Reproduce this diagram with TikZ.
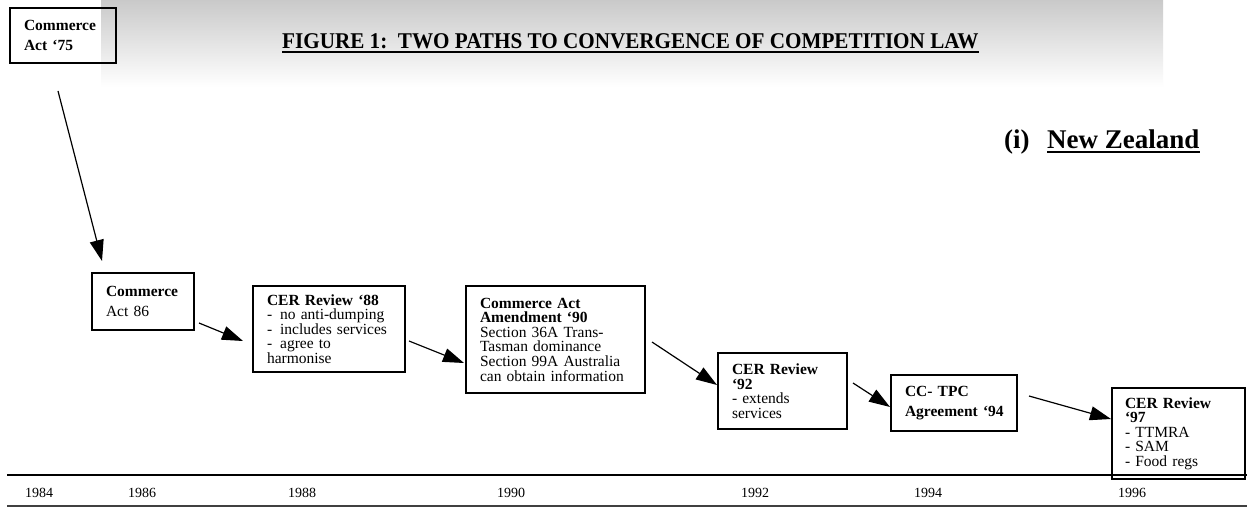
\documentclass[tikz,border=0pt]{standalone}
\usepackage{fontspec}
\setmainfont{Liberation Serif}
\newfontfamily\titlefont[FakeStretch=0.94]{Liberation Serif}
\usetikzlibrary{arrows.meta,calc}
\newcommand\lineof[1]{\mbox{#1}}
\tikzset{
  box/.style={draw, line width=1.3pt, anchor=north west, inner xsep=14pt, inner ysep=0pt, outer sep=0pt, align=left, font=\fontsize{15.5}{14.6}\selectfont},
  boxtwo/.style={box, font=\fontsize{15.5}{20}\selectfont},
  arr/.style={line width=1.2pt, -{Triangle[length=21pt,width=14pt]}},
  year/.style={anchor=base west, inner sep=0pt, font=\fontsize{14}{16}\selectfont},
  plain/.style={anchor=base west, inner sep=0pt},
}
\begin{document}
\begin{tikzpicture}[x=1pt,y=-1pt]
\useasboundingbox (0,0) rectangle (1247,508);
\fill[white] (0,0) rectangle (1247,508);
% gradient band
\shade[top color=black!21, bottom color=white] (101,0) rectangle (1163,87);
% title
\node[plain] (title) at (282,49) {\titlefont\fontsize{22.5}{26}\selectfont\bfseries FIGURE 1:\ \ TWO PATHS TO CONVERGENCE OF COMPETITION LAW};
\draw[line width=2pt] ([yshift=-3pt]title.base west) -- ([yshift=-3pt]title.base east);
% heading
\node[plain, font=\fontsize{27}{30}\selectfont\bfseries] (hi) at (1004,149) {(i)};
\node[plain, font=\fontsize{27}{30}\selectfont\bfseries] (nz) at (1047,149) {New Zealand};
\draw[line width=1.8pt] ([yshift=-3pt]nz.base west) -- ([yshift=-3pt]nz.base east);
% boxes
\node[boxtwo, minimum width=106pt, minimum height=55pt, text width=78pt] (c75) at (10,8) {\lineof{\textbf{Commerce}}\\\lineof{\textbf{Act ‘75}}};
\node[boxtwo, minimum width=102pt, minimum height=57pt, text width=74pt] (c86) at (92,273) {\lineof{\textbf{Commerce}}\\\lineof{Act 86}};
\node[box, minimum width=152pt, minimum height=86pt, text width=124pt] (c88) at (253,286) {\lineof{\textbf{CER Review ‘88}}\\\lineof{-\hspace{8pt}no anti-dumping}\\\lineof{-\hspace{8pt}includes services}\\\lineof{-\hspace{8pt}agree to}\\\lineof{harmonise}};
\node[box, minimum width=179pt, minimum height=107pt, text width=151pt] (c90) at (466,286) {\lineof{\textbf{Commerce Act}}\\\lineof{\textbf{Amendment ‘90}}\\\lineof{Section 36A Trans-}\\\lineof{Tasman dominance}\\\lineof{Section 99A Australia}\\\lineof{can obtain information}};
\node[box, minimum width=129pt, minimum height=76pt, text width=101pt] (c92) at (718,353) {\lineof{\textbf{CER Review}}\\\lineof{\textbf{‘92}}\\\lineof{- extends}\\\lineof{services}};
\node[boxtwo, minimum width=126pt, minimum height=56pt, text width=98pt] (c94) at (891,375) {\lineof{\textbf{CC- TPC}}\\\lineof{\textbf{Agreement ‘94}}};
\node[box, minimum width=133pt, minimum height=91pt, text width=107pt, inner xsep=13pt] (c97) at (1112,388) {\lineof{\textbf{CER Review}}\\\lineof{\textbf{‘97}}\\\lineof{- TTMRA}\\\lineof{- SAM}\\\lineof{- Food regs}};
% connectors
\draw[arr] ([shift={(-5,28)}]c75.south) -- ([shift={(10,-12)}]c86.north west);
\draw[arr] ([shift={(5,21.5)}]c86.east) -- ([shift={(-10,12)}]c88.west);
\draw[arr] ([shift={(4,12)}]c88.east) -- ([shift={(-2,23.5)}]c90.west);
\draw[arr] ([shift={(7,2.5)}]c90.east) -- ([shift={(-1,-6)}]c92.west);
\draw[arr] ([shift={(6,-8)}]c92.east) -- ([shift={(-1,4)}]c94.west);
\draw[arr] ([shift={(12,-7)}]c94.east) -- ([shift={(-1,-14.5)}]c97.west);
% timeline
\coordinate (tl0) at (7,474.5);
\coordinate (tl1) at (1247,474.5);
\draw[line width=2pt] (tl0) -- (tl1);
\coordinate (bl0) at (7,506);
\coordinate (bl1) at (1247,506);
\draw[line width=1.5pt, black!75] (bl0) -- (bl1);
\node[year] (y84) at (25,497) {1984};
\node[year] (y86) at (128,497) {1986};
\node[year] (y88) at (288,497) {1988};
\node[year] (y90) at (497,497) {1990};
\node[year] (y92) at (741,497) {1992};
\node[year] (y94) at (914,497) {1994};
\node[year] (y96) at (1118,497) {1996};
\end{tikzpicture}
\end{document}
